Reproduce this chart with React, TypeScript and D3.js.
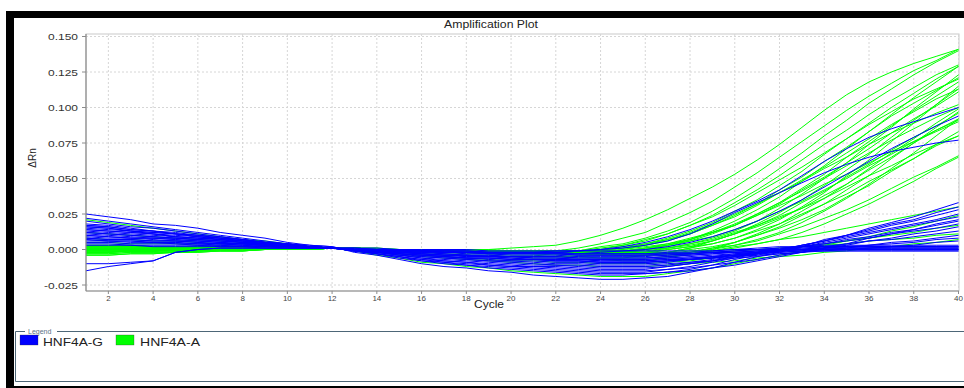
import React from "react";
import * as d3 from "d3";

// Cycle numbers (x) and tick labels
const cycles = [1,2,3,4,5,6,7,8,9,10,11,12,13,14,15,16,17,18,19,20,21,22,23,24,25,26,27,28,29,30,31,32,33,34,35,36,37,38,39,40];
const xTicks = [2,4,6,8,10,12,14,16,18,20,22,24,26,28,30,32,34,36,38,40];
const yTicks = [-0.025, 0.0, 0.025, 0.05, 0.075, 0.1, 0.125, 0.15];
const seriesNames = ["HNF4A-G", "HNF4A-A"];
const seriesColors = ["#0000ff", "#00ff00"];

// ΔRn values per well, in thousandths (x 0.001), cycles 1..40
// HNF4A-G (blue) wells
const blueWells: number[][] = [
  [25,23,21,18,17,15,12,10,8,5,3,2,-2,-4,-7,-10,-12,-13,-15,-16,-18,-19,-20,-21,-21,-20,-19,-16,-13,-9,-5,-2,2,7,10,15,19,23,28,33],
  [-15,-12,-10,-8,-2,0,1,1,1,1,1,1,-1,-3,-6,-8,-10,-11,-13,-14,-15,-16,-17,-18,-18,-17,-16,-14,-11,-7,-4,-1,3,6,10,14,18,21,26,30],
  [20,18,16,15,13,11,9,7,5,4,2,1,-1,-3,-5,-7,-9,-10,-11,-12,-13,-14,-15,-16,-16,-16,-14,-12,-9,-6,-3,0,3,6,10,13,17,20,24,28],
  [17,16,14,13,11,10,8,7,5,4,2,1,-1,-2,-4,-6,-8,-9,-10,-11,-12,-12,-13,-14,-14,-14,-12,-10,-8,-5,-3,0,3,6,9,12,15,18,21,25],
  [-10,-10,-9,-8,-2,0,1,1,1,1,1,1,-1,-2,-4,-6,-7,-8,-9,-10,-11,-11,-12,-13,-13,-13,-12,-10,-8,-5,-3,0,2,5,8,11,14,17,20,23],
  [15,14,13,11,10,9,7,6,5,3,2,1,-1,-2,-4,-5,-6,-7,-8,-9,-10,-11,-11,-12,-12,-12,-11,-9,-7,-5,-3,0,2,4,7,9,12,14,17,20],
  [13,12,11,10,9,8,7,5,4,3,2,1,0,-2,-3,-4,-5,-6,-7,-8,-8,-9,-9,-10,-10,-10,-9,-7,-6,-4,-2,0,2,4,6,8,11,13,15,18],
  [18,17,15,13,12,10,9,7,5,4,2,1,-1,-3,-5,-7,-8,-9,-11,-12,-12,-13,-14,-15,-15,-15,-14,-13,-11,-9,-7,-4,-2,1,3,6,8,11,13,16],
  [11,10,9,8,8,7,6,5,4,3,2,1,0,-1,-3,-4,-5,-6,-6,-7,-7,-8,-8,-9,-9,-9,-8,-7,-6,-4,-3,-1,0,2,4,6,7,9,11,13],
  [8,7,7,6,6,5,4,4,3,2,2,1,0,-2,-3,-5,-6,-7,-8,-8,-9,-10,-10,-11,-11,-11,-10,-9,-8,-6,-5,-3,-2,0,1,3,5,6,8,10],
  [16,15,13,12,11,9,8,6,5,3,2,1,0,-1,-2,-3,-4,-4,-5,-5,-6,-6,-7,-7,-7,-7,-6,-6,-5,-4,-3,-2,-1,1,2,3,4,5,7,8],
  [14,13,12,11,9,8,7,6,4,3,2,1,0,-1,-2,-3,-4,-5,-5,-6,-7,-7,-7,-8,-8,-8,-7,-7,-6,-5,-4,-3,-2,-1,0,1,2,3,5,6],
  [22,20,18,16,14,12,10,8,6,4,3,2,-1,-3,-5,-8,-9,-11,-12,-13,-14,-15,-16,-17,-17,-17,-16,-15,-13,-11,-8,-5,-2,1,4,8,11,14,18,21],
  [12,11,10,9,8,7,6,5,4,3,2,1,0,-1,-2,-2,-3,-4,-4,-5,-5,-5,-6,-6,-6,-6,-5,-4,-3,-2,-1,0,1,1,1,1,1,1,1,1],
  [10,9,8,8,7,6,5,4,4,3,2,1,0,0,-1,-1,-2,-2,-3,-3,-3,-3,-4,-4,-4,-4,-4,-3,-2,-2,-1,-1,0,0,0,0,0,0,0,0],
  [8,7,7,6,6,5,4,4,3,2,2,1,0,-1,-2,-3,-4,-5,-5,-6,-7,-7,-7,-8,-8,-8,-7,-6,-5,-3,-2,0,1,2,2,2,2,2,2,2],
  [6,6,5,5,4,4,3,3,2,2,1,1,1,0,0,-1,-1,-1,-2,-2,-2,-2,-3,-3,-3,-3,-3,-3,-2,-2,-2,-1,-1,-1,-1,-1,-1,-1,-1,-1],
  [16,15,13,12,11,9,8,6,5,3,2,1,0,-1,-3,-4,-5,-6,-6,-7,-7,-8,-8,-9,-9,-9,-8,-7,-5,-4,-2,-1,0,1,1,1,1,1,1,1],
  [4,4,3,3,3,3,2,2,2,1,1,1,1,1,0,0,0,0,-1,-1,-1,-1,-1,-1,-1,-1,-1,-1,-1,0,0,0,0,0,0,0,0,0,0,0],
  [9,8,8,7,6,6,5,4,3,3,2,1,0,0,-1,-2,-2,-3,-3,-4,-4,-4,-5,-5,-5,-5,-4,-3,-2,-1,0,1,2,2,2,2,2,2,2,2],
  [17,16,14,13,11,10,8,7,5,4,2,1,0,-1,-2,-3,-4,-4,-5,-5,-6,-6,-7,-7,-7,-7,-6,-5,-4,-3,-2,-1,0,1,1,1,1,1,1,1],
  [3,3,3,2,2,2,2,2,1,1,1,1,1,0,0,-1,-1,-1,-2,-2,-2,-2,-3,-3,-3,-3,-2,-2,-1,0,1,2,2,3,3,3,3,3,3,3],
  [7,6,6,5,5,4,4,3,3,2,2,1,0,-1,-3,-4,-5,-6,-6,-7,-7,-8,-8,-9,-9,-9,-8,-7,-6,-4,-3,-2,-1,-1,-1,-1,-1,-1,-1,-1],
  [14,13,12,11,9,8,7,6,4,3,2,1,0,0,-1,-1,-2,-2,-3,-3,-3,-3,-4,-4,-4,-4,-3,-3,-2,-1,0,1,2,2,2,2,2,2,2,2],
  [5,5,4,4,4,3,3,2,2,2,1,1,0,-1,-2,-2,-3,-4,-4,-5,-5,-5,-6,-6,-6,-6,-5,-4,-3,-2,-1,0,0,0,0,0,0,0,0,0],
  [10,9,8,8,7,6,5,4,4,3,2,1,0,0,-1,-1,-1,-2,-2,-2,-2,-2,-1,0,2,5,9,14,20,27,34,42,52,62,71,79,85,90,95,100],
  [7,6,6,5,5,4,4,3,3,2,2,1,0,0,-1,-1,-2,-2,-2,-3,-3,-3,-3,-2,-1,0,2,5,9,14,20,27,35,44,53,62,71,79,87,94],
  [12,11,10,9,8,7,6,5,4,3,2,1,0,0,-1,-1,-1,-1,-2,-2,-2,-1,-1,0,1,3,6,11,18,26,33,40,47,54,60,65,69,72,75,77],
];

// HNF4A-A (green) wells
const greenWells: number[][] = [
  [1,1,1,1,1,1,1,1,1,1,1,1,1,0,0,0,0,0,0,1,2,3,6,10,15,21,28,36,44,53,63,74,86,98,109,118,125,131,136,141],
  [0,0,0,0,0,0,0,0,0,1,1,1,1,0,0,0,-1,-1,-1,-1,-1,-1,1,4,8,12,19,26,34,44,54,65,76,87,98,108,117,126,133,141],
  [2,2,2,2,1,1,1,1,1,1,1,1,1,0,0,-1,-1,-1,-1,-2,-2,-2,-2,0,3,6,11,17,24,33,42,52,63,74,84,95,105,114,123,130],
  [-1,-1,-1,-1,0,0,0,0,0,0,1,1,1,0,0,0,0,-1,-1,-1,-1,-1,-1,1,3,7,11,17,23,31,40,49,58,68,78,88,97,106,113,120],
  [3,3,3,2,2,2,2,2,1,1,1,1,1,0,0,-1,-1,-2,-2,-2,-3,-3,-3,-1,1,4,7,12,18,25,32,40,48,57,65,74,82,89,96,102],
  [-2,-2,-1,-1,-1,-1,0,0,0,0,0,1,1,1,0,0,0,0,-1,-1,-1,-1,-1,-1,2,4,8,13,19,27,35,45,55,67,78,89,100,110,120,129],
  [1,1,1,1,1,1,1,1,1,1,1,1,1,0,0,0,-1,-1,-1,-1,-2,-2,-2,-2,0,3,6,11,17,24,32,42,51,62,72,83,94,103,112,121],
  [-3,-3,-2,-2,-2,-1,-1,-1,0,0,0,1,1,0,0,0,0,-1,-1,-1,-1,-1,-1,-1,1,3,7,11,17,23,31,40,49,58,68,78,88,97,106,113],
  [5,5,4,4,4,3,3,2,2,2,1,1,0,0,-1,-1,-2,-2,-3,-3,-3,-4,-4,-4,-2,0,3,7,12,18,25,33,41,50,59,68,77,85,93,100],
  [0,0,0,0,0,0,0,0,0,1,1,1,1,0,0,0,-1,-1,-1,-1,-2,-2,-2,-2,0,2,4,8,12,17,24,31,38,46,53,61,69,76,83,90],
  [-1,-1,-1,-1,0,0,0,0,0,0,1,1,1,0,0,0,-1,-1,-1,-1,-1,-2,-2,-2,-2,1,3,7,13,20,28,37,48,59,71,83,95,107,118,129],
  [2,2,2,2,1,1,1,1,1,1,1,1,1,0,0,-1,-1,-1,-2,-2,-2,-2,-3,-3,-3,0,2,6,11,17,25,33,43,53,65,76,87,98,108,118],
  [-2,-2,-1,-1,-1,-1,0,0,0,0,0,1,1,1,0,0,0,0,0,-1,-1,-1,-1,-1,-1,1,4,7,12,17,24,32,42,51,61,71,82,92,101,111],
  [8,7,7,6,6,5,4,4,3,2,2,1,0,-1,-1,-2,-2,-3,-3,-4,-4,-5,-5,-6,-6,-4,-2,1,6,11,17,24,33,41,51,60,70,79,87,96],
  [1,1,1,1,1,1,1,1,1,1,1,1,1,0,0,0,0,0,-1,-1,-1,-1,-1,-1,-1,1,3,6,9,14,20,27,34,42,50,59,67,76,84,91],
  [-3,-3,-2,-2,-2,-1,-1,-1,0,0,0,1,1,0,0,0,-1,-1,-1,-1,-2,-2,-2,-2,-2,0,1,4,7,12,17,23,29,36,44,52,59,67,74,80],
  [0,0,0,0,0,0,0,0,0,1,1,1,1,0,0,0,-1,-1,-1,-1,-1,-2,-2,-2,-2,-2,1,4,8,13,20,29,39,50,61,74,86,99,111,123],
  [-1,-1,-1,-1,0,0,0,0,0,0,1,1,1,0,0,-1,-1,-1,-2,-2,-2,-2,-3,-3,-3,-3,0,2,6,11,18,26,35,45,56,67,79,91,102,113],
  [12,11,10,9,8,7,6,5,4,3,2,1,0,-1,-2,-3,-4,-4,-5,-5,-6,-6,-7,-7,-8,-8,-6,-3,0,5,11,18,27,36,46,57,68,78,89,99],
  [2,2,2,2,1,1,1,1,1,1,1,1,1,0,0,0,0,0,-1,-1,-1,-1,-1,-1,-1,-1,1,3,6,11,16,22,29,38,46,56,65,75,84,92],
  [-2,-2,-1,-1,-1,-1,0,0,0,0,0,1,1,0,0,0,-1,-1,-1,-1,-1,-2,-2,-2,-2,-2,0,2,4,8,13,18,25,32,39,48,56,64,73,80],
  [1,1,1,1,1,1,1,1,1,1,1,1,1,0,0,0,0,-1,-1,-1,-1,-1,-2,-2,-2,-2,-2,1,4,8,14,21,30,40,52,63,76,89,102,115],
  [-1,-1,-1,-1,0,0,0,0,0,0,1,1,1,0,0,-1,-1,-1,-2,-2,-2,-3,-3,-3,-4,-4,-4,-2,1,5,10,16,24,32,42,52,64,75,86,97],
  [3,3,3,2,2,2,2,2,1,1,1,1,1,0,0,0,-1,-1,-1,-1,-1,-2,-2,-2,-2,-2,-2,0,2,5,10,15,21,28,37,45,55,64,74,83],
  [0,0,0,0,0,0,0,0,0,1,1,1,1,0,0,-1,-1,-1,-2,-2,-2,-2,-3,-3,-3,-3,-3,-1,0,3,6,11,16,22,28,35,43,51,58,66],
  [-2,-2,-1,-1,-1,-1,0,0,0,0,0,1,1,0,0,0,-1,-1,-1,-1,-1,-1,-2,-2,-2,-2,-2,-2,1,3,7,12,19,27,36,46,57,68,80,92],
  [1,1,1,1,1,1,1,1,1,1,1,1,1,0,0,0,-1,-1,-1,-2,-2,-2,-2,-3,-3,-3,-3,-3,-1,1,4,7,12,18,25,32,40,48,57,65],
  [-1,-1,-1,-1,0,0,0,0,0,0,1,1,1,0,0,0,0,-1,-1,-1,-1,-1,-1,2,4,8,13,19,27,36,46,57,68,80,91,103,113,123,132,140],
  [-4,-4,-3,-3,-2,-2,-1,-1,0,0,0,1,-1,-4,-6,-9,-10,-12,-13,-15,-16,-17,-18,-19,-19,-19,-17,-15,-13,-10,-7,-4,-1,3,6,9,13,16,20,24],
  [21,19,17,15,13,11,9,7,6,4,2,1,0,-1,-2,-2,-3,-4,-4,-5,-5,-5,-6,-6,-6,-6,-5,-3,-1,2,4,7,9,12,15,18,21,24,27,30],
  [2,2,2,2,1,1,1,1,1,1,1,1,0,-2,-3,-4,-5,-6,-7,-8,-8,-9,-9,-10,-10,-10,-9,-8,-6,-4,-2,0,2,4,6,8,10,12,15,17],
  [-2,-2,-1,-1,-1,-1,0,0,0,0,0,1,1,0,0,-1,-1,-2,-2,-2,-3,-3,-3,-4,-4,-4,-3,-3,-2,-1,0,1,2,3,4,6,7,8,10,11],
  [-4,-4,-3,-3,-2,-2,-1,-1,0,0,0,1,-1,-2,-4,-5,-6,-7,-8,-9,-10,-11,-11,-12,-12,-12,-11,-10,-9,-8,-6,-5,-4,-2,-1,1,2,4,5,7],
];

const W = 964;
const H = 388;
const plot = { left: 86, right: 959, top: 34, bottom: 291 };
const FONT = "'Liberation Sans', Arial, sans-serif";

export default function App() {
  const x = d3.scaleLinear().domain([1, 40]).range([86, 958.5]);
  const y = d3.scaleLinear().domain([-0.025, 0.15]).range([285, 36.5]);
  const line = d3
    .line<number>()
    .x((_, i) => x(cycles[i]))
    .y((v) => y(v / 1000));

  const axisGray = "#8c8c8c";
  const gridGray = "#d6d6d6";
  const legendLine = "#4d6677";

  return (
    <svg
      width={W}
      height={H}
      viewBox={`0 0 ${W} ${H}`}
      style={{ position: "absolute", left: 0, top: 0, display: "block" }}
    >
      <rect x={0} y={0} width={W} height={H} fill="#ffffff" />
      <rect x={6} y={11} width={W - 6} height={H - 11} fill="#000000" />
      <rect x={14} y={18} width={W - 14} height={368} fill="#ffffff" />

      <defs>
        <clipPath id="plotClip">
          <rect x={plot.left} y={plot.top} width={plot.right - plot.left} height={plot.bottom - plot.top} />
        </clipPath>
      </defs>

      {/* title */}
      <text x={491} y={28} textAnchor="middle" fontFamily={FONT} fontSize={10.5} fill="#222" textLength={94} lengthAdjust="spacingAndGlyphs">
        Amplification Plot
      </text>

      {/* plot frame */}
      <rect x={plot.left} y={plot.top} width={plot.right - plot.left} height={plot.bottom - plot.top} fill="#fff" stroke="#c9c9c9" strokeWidth={1} />

      {/* grid */}
      {yTicks.map((t) => (
        <line key={"gy" + t} x1={plot.left} x2={plot.right} y1={y(t)} y2={y(t)} stroke={gridGray} strokeDasharray="2,2" strokeWidth={1} />
      ))}
      {xTicks.map((t) => (
        <line key={"gx" + t} x1={x(t)} x2={x(t)} y1={plot.top} y2={plot.bottom} stroke={gridGray} strokeDasharray="2,2" strokeWidth={1} />
      ))}

      {/* curves */}
      <g clipPath="url(#plotClip)" fill="none" strokeWidth={1} strokeLinejoin="round">
        {greenWells.map((w, i) => (
          <path key={"g" + i} d={line(w) || ""} stroke={seriesColors[1]} />
        ))}
        {blueWells.map((w, i) => (
          <path key={"b" + i} d={line(w) || ""} stroke={seriesColors[0]} />
        ))}
      </g>

      {/* axes */}
      <line x1={plot.left} x2={plot.left} y1={plot.top} y2={plot.bottom} stroke={axisGray} strokeWidth={1.2} />
      <line x1={plot.left} x2={plot.right} y1={plot.bottom} y2={plot.bottom} stroke={axisGray} strokeWidth={1.2} />
      {yTicks.map((t) => (
        <g key={"ty" + t}>
          <line x1={plot.left - 4} x2={plot.left} y1={y(t)} y2={y(t)} stroke={axisGray} />
          <text x={78} y={y(t) + 3.5} textAnchor="end" fontFamily={FONT} fontSize={9.5} fill="#333" textLength={t < 0 ? 34 : 30} lengthAdjust="spacingAndGlyphs">
            {t.toFixed(3)}
          </text>
        </g>
      ))}
      {xTicks.map((t) => (
        <g key={"tx" + t}>
          <line x1={x(t)} x2={x(t)} y1={plot.bottom} y2={plot.bottom + 3} stroke={axisGray} />
          <text x={x(t)} y={301} textAnchor="middle" fontFamily={FONT} fontSize={8} fill="#444">
            {t}
          </text>
        </g>
      ))}

      {/* axis titles */}
      <text x={489} y={308} textAnchor="middle" fontFamily={FONT} fontSize={10.5} fill="#222" textLength={30} lengthAdjust="spacingAndGlyphs">
        Cycle
      </text>
      <text transform="translate(36,158) rotate(-90)" textAnchor="middle" fontFamily={FONT} fontSize={10} fill="#222">
        ΔRn
      </text>

      {/* legend */}
      <g>
        <line x1={15.5} x2={25} y1={331.5} y2={331.5} stroke={legendLine} />
        <line x1={57} x2={W} y1={331.5} y2={331.5} stroke={legendLine} />
        <line x1={15.5} x2={15.5} y1={331.5} y2={381.5} stroke={legendLine} />
        <line x1={15.5} x2={W} y1={381.5} y2={381.5} stroke={legendLine} />
        <text x={28} y={334} fontFamily={FONT} fontSize={7} fill="#5a7184">Legend</text>
        {seriesNames.map((n, i) => (
          <g key={n}>
            <rect x={20 + i * 96} y={335} width={18} height={10} fill={seriesColors[i]} stroke="#333" strokeWidth={0.3} />
            <text x={43 + i * 97} y={346} fontFamily={FONT} fontSize={11} fill="#222" textLength={60} lengthAdjust="spacingAndGlyphs">
              {n}
            </text>
          </g>
        ))}
      </g>
    </svg>
  );
}
